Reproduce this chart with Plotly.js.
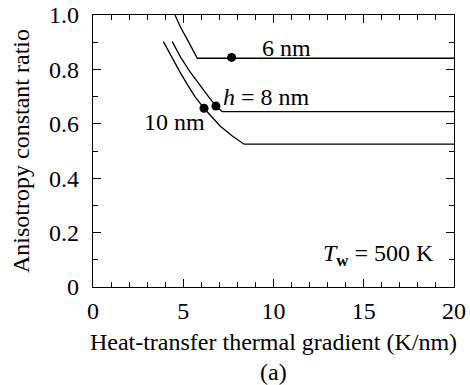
<!DOCTYPE html>
<html><head><meta charset="utf-8">
<script src="https://cdn.plot.ly/plotly-3.0.1.min.js"></script>
<style>html,body{margin:0;padding:0;background:#fff}</style>
</head><body>
<div id="chart" style="width:470px;height:385px"></div>
<script>
const x6 = [4.54, 4.85, 5.19, 5.50, 5.78, 20];
const y6 = [1.0, 0.955, 0.914, 0.875, 0.841, 0.841];
const x8 = [4.39, 4.85, 5.37, 5.90, 6.40, 6.81, 7.16, 20];
const y8 = [0.902, 0.845, 0.792, 0.743, 0.700, 0.665, 0.645, 0.645];
const x10 = [3.90, 4.35, 4.82, 5.25, 5.65, 6.15, 6.60, 7.04, 7.70, 8.37, 20];
const y10 = [0.902, 0.845, 0.790, 0.742, 0.700, 0.657, 0.625, 0.592, 0.556, 0.525, 0.525];
const dotX = [7.68, 6.81, 6.15];
const dotY = [0.844, 0.665, 0.657];
const labels = ["6 nm", "<i>h</i> = 8 nm", "10 nm", "<i>T</i><sub><b>w</b></sub> = 500 K"];
const labelX = [10.72, 9.62, 4.54, 15.8];
const labelY = [0.88, 0.697, 0.608, 0.118];
const xTitle = "Heat-transfer thermal gradient (K/nm)";
const yTitle = "Anisotropy constant ratio";
const caption = "(a)";

const fam = "Times New Roman";
const font = {family: fam, size: 24, color: "#000"};
const line = {color: "#000", width: 1.3};
const traces = [
  {x: x6, y: y6, mode: "lines", line: line},
  {x: x8, y: y8, mode: "lines", line: line},
  {x: x10, y: y10, mode: "lines", line: line},
  {x: dotX, y: dotY, mode: "markers", marker: {color: "#000", size: 9}}
];
const ann = labels.map((t, i) => ({x: labelX[i], y: labelY[i], xref: "x", yref: "y", text: t, showarrow: false, font: font}));
ann.push({x: 0.5, y: 0, xref: "paper", yref: "paper", yshift: -85, text: caption, showarrow: false, font: font, yanchor: "middle"});
const axBase = {
  showgrid: false, zeroline: false, showline: true, linecolor: "#000", linewidth: 1.3,
  mirror: "allticks", ticks: "inside", ticklen: 8, tickwidth: 1.2, tickcolor: "#000",
  tickfont: font, fixedrange: true
};
const layout = {
  width: 470, height: 385,
  margin: {l: 93, r: 16, t: 15, b: 98},
  paper_bgcolor: "#fff", plot_bgcolor: "#fff",
  showlegend: false,
  font: font,
  xaxis: Object.assign({}, axBase, {
    range: [0, 20], tickvals: [0, 5, 10, 15, 20],
    ticklabelstandoff: 2,
    minor: {dtick: 1, tick0: 0, ticks: "inside", ticklen: 5, tickwidth: 1, tickcolor: "#000", showgrid: false},
    title: {text: xTitle, font: font, standoff: 10}
  }),
  yaxis: Object.assign({}, axBase, {
    range: [0, 1.0], tickvals: [0, 0.2, 0.4, 0.6, 0.8, 1.0], ticktext: ["0", "0.2", "0.4", "0.6", "0.8", "1.0"],
    ticklabelstandoff: 8,
    minor: {dtick: 0.1, tick0: 0, ticks: "inside", ticklen: 5, tickwidth: 1, tickcolor: "#000", showgrid: false},
    title: {text: yTitle, font: font, standoff: 12}
  }),
  annotations: ann
};
Plotly.newPlot("chart", traces, layout, {displayModeBar: false, staticPlot: true});
</script>
</body></html>
